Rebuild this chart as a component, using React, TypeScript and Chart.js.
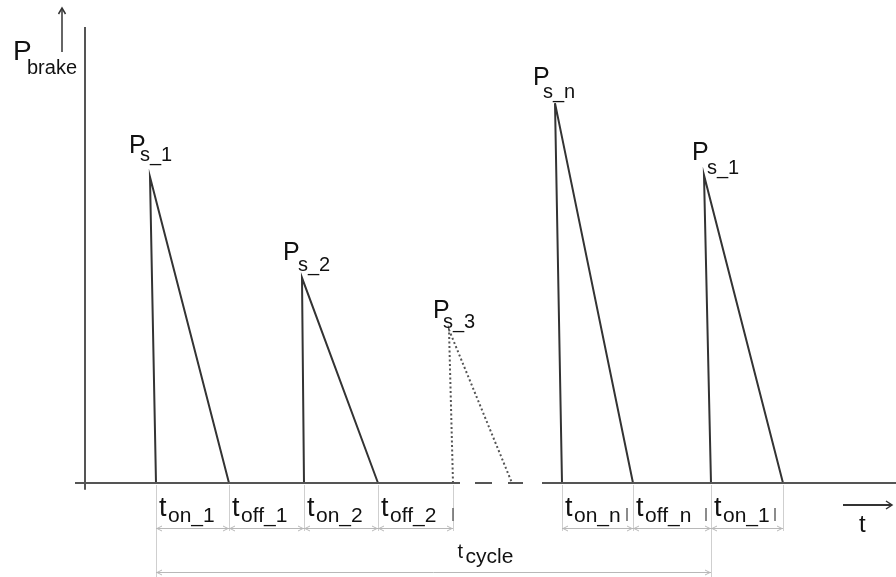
import React, { useEffect, useRef } from "react";
import { Chart, registerables } from "chart.js";

Chart.register(...registerables);

// ---- data (time in arbitrary units, power in % of axis height) ----
const T_MAX = 81.1;
const P_MAX = 100;
const PULSE_APEX_T = [6.5, 21.7, 36.4, 47.0, 61.9];
const PULSE_ON_T = [7.1, 21.9, 36.8, 47.7, 62.6];
const PULSE_OFF_T = [14.4, 29.3, 42.7, 54.8, 69.8];
const PULSE_PEAK = [67.1, 45.0, 33.6, 83.3, 67.5];
const PULSE_LABELS = ["s_1", "s_2", "s_3", "s_n", "s_1"];
const PULSE_DOTTED = [false, false, true, false, false];
const BASELINE_SEGMENTS = [
  [-1.0, 37.5],
  [39.0, 40.7],
  [42.3, 43.8],
  [45.7, 81.1],
];
const Y_AXIS_RANGE = [-1.5, 100];
const ROW1_BOUNDS = [7.1, 14.4, 21.9, 29.3, 36.8];
const ROW1_LABELS = ["on_1", "off_1", "on_2", "off_2"];
const ROW2_BOUNDS = [47.7, 54.8, 62.6, 69.8];
const ROW2_LABELS = ["on_n", "off_n", "on_1"];
const CYCLE_BOUNDS = [7.1, 62.6];
const CYCLE_LABEL = "cycle";

// label styling offsets (px) for the peak labels
const PEAK_LABEL_DX = [-21, -19, -16, -22, -12];
const PEAK_LABEL_DY = [-24, -18, -12, -18, -15];
const PEAK_SUB_DX = [11, 15, 10, 10, 15];
const PEAK_SUB_DY = [8, 11, 10, 13, 14];

const FONT = '"Liberation Sans", Arial, Helvetica, sans-serif';

function font(size: number) {
  return `${size}px ${FONT}`;
}

function chevron(ctx: CanvasRenderingContext2D, x: number, y: number, dir: string, len: number, half: number) {
  ctx.beginPath();
  if (dir === "up") {
    ctx.moveTo(x - half, y + len);
    ctx.lineTo(x, y);
    ctx.lineTo(x + half, y + len);
  } else if (dir === "right") {
    ctx.moveTo(x - len, y - half);
    ctx.lineTo(x, y);
    ctx.lineTo(x - len, y + half);
  } else if (dir === "left") {
    ctx.moveTo(x + len, y - half);
    ctx.lineTo(x, y);
    ctx.lineTo(x + len, y + half);
  }
  ctx.stroke();
}

function dimLine(ctx: CanvasRenderingContext2D, x1: number, x2: number, y: number) {
  ctx.beginPath();
  ctx.moveTo(x1, y);
  ctx.lineTo(x2, y);
  ctx.stroke();
  chevron(ctx, x1 + 1, y, "left", 5, 2.5);
  chevron(ctx, x2 - 1, y, "right", 5, 2.5);
}

function subText(
  ctx: CanvasRenderingContext2D,
  main: string,
  sub: string,
  x: number,
  y: number,
  mainSize: number,
  subSize: number,
  subDx: number,
  subDy: number
) {
  ctx.textAlign = "left";
  ctx.textBaseline = "alphabetic";
  ctx.font = font(mainSize);
  ctx.fillText(main, x, y);
  ctx.font = font(subSize);
  ctx.fillText(sub, x + subDx, y + subDy);
}

const annotationPlugin = {
  id: "brakeAnnotations",
  afterDatasetsDraw(chart: any) {
    const { ctx, scales } = chart;
    const xs = scales.x;
    const ys = scales.y;
    const px = (v: number) => xs.getPixelForValue(v);
    const py = (v: number) => ys.getPixelForValue(v);
    const base = py(0);
    const axisX = px(0);
    const top = py(P_MAX);

    ctx.save();
    ctx.fillStyle = "#111";

    // Axis arrows
    ctx.strokeStyle = "#333";
    ctx.lineWidth = 1.5;
    const upX = axisX - 23;
    ctx.beginPath();
    ctx.moveTo(upX, top + 25);
    ctx.lineTo(upX, top - 19);
    ctx.stroke();
    chevron(ctx, upX, top - 19, "up", 6, 3.5);

    const rY = base + 22;
    ctx.lineWidth = 2;
    ctx.beginPath();
    ctx.moveTo(843, rY);
    ctx.lineTo(892, rY);
    ctx.stroke();
    ctx.lineWidth = 1.5;
    chevron(ctx, 892, rY, "right", 6, 4);

    // Axis labels
    subText(ctx, "P", "brake", axisX - 72, top + 33, 28, 20, 14, 14);
    ctx.font = font(24);
    ctx.fillText("t", 859, base + 49);

    // Peak labels
    for (let i = 0; i < PULSE_APEX_T.length; i++) {
      const ax = px(PULSE_APEX_T[i]);
      const ay = py(PULSE_PEAK[i]);
      subText(
        ctx,
        "P",
        PULSE_LABELS[i],
        ax + PEAK_LABEL_DX[i],
        ay + PEAK_LABEL_DY[i],
        25,
        20,
        PEAK_SUB_DX[i],
        PEAK_SUB_DY[i]
      );
    }

    // Extension lines
    const rowY = base + 45;
    const cycY = base + 89;
    ctx.strokeStyle = "#cfcfcf";
    ctx.lineWidth = 1;
    const allBounds = [...ROW1_BOUNDS, ...ROW2_BOUNDS];
    for (const b of allBounds) {
      const x = Math.round(px(b)) + 0.5;
      ctx.beginPath();
      ctx.moveTo(x, base + 2);
      ctx.lineTo(x, rowY + 3);
      ctx.stroke();
    }
    for (const b of CYCLE_BOUNDS) {
      const x = Math.round(px(b)) + 0.5;
      ctx.beginPath();
      ctx.moveTo(x, base + 2);
      ctx.lineTo(x, cycY + 6);
      ctx.stroke();
    }

    // Dimension arrows
    ctx.strokeStyle = "#b8b8b8";
    ctx.lineWidth = 1;
    const rows: [number[], string[]][] = [
      [ROW1_BOUNDS, ROW1_LABELS],
      [ROW2_BOUNDS, ROW2_LABELS],
    ];
    for (const [bounds] of rows) {
      for (let i = 0; i < bounds.length - 1; i++) {
        dimLine(ctx, px(bounds[i]), px(bounds[i + 1]), rowY + 0.5);
      }
    }
    dimLine(ctx, px(CYCLE_BOUNDS[0]), px(CYCLE_BOUNDS[1]), cycY + 0.5);

    // Interval labels
    ctx.fillStyle = "#111";
    for (const [bounds, labels] of rows) {
      for (let i = 0; i < labels.length; i++) {
        const x = px(bounds[i]) + 3;
        subText(ctx, "t", labels[i], x, base + 33, 27, 21, 9, 6);
      }
    }
    const cx = (px(CYCLE_BOUNDS[0]) + px(CYCLE_BOUNDS[1])) / 2 + 24;
    subText(ctx, "t", CYCLE_LABEL, cx, base + 75, 20, 21, 8, 5);

    // small box-edge marks next to some labels
    ctx.strokeStyle = "#666";
    ctx.lineWidth = 1.5;
    const marks = [px(ROW1_BOUNDS[4]), px(ROW2_BOUNDS[1]) - 6, px(ROW2_BOUNDS[2]) - 5, px(ROW2_BOUNDS[3]) - 8];
    for (const m of marks) {
      ctx.beginPath();
      ctx.moveTo(m, base + 25);
      ctx.lineTo(m, base + 38);
      ctx.stroke();
    }

    ctx.restore();
  },
};

export default function App() {
  const canvasRef = useRef<HTMLCanvasElement | null>(null);

  useEffect(() => {
    const canvas = canvasRef.current;
    if (!canvas) return;

    const common = {
      showLine: true,
      pointRadius: 0,
      pointHoverRadius: 0,
      fill: false,
      tension: 0,
      clip: false as any,
    };

    const datasets: any[] = [];
    datasets.push({
      ...common,
      data: [
        { x: 0, y: Y_AXIS_RANGE[0] },
        { x: 0, y: Y_AXIS_RANGE[1] },
      ],
      borderColor: "#555",
      borderWidth: 2,
    });
    for (const [a, b] of BASELINE_SEGMENTS) {
      datasets.push({
        ...common,
        data: [
          { x: a, y: 0 },
          { x: b, y: 0 },
        ],
        borderColor: "#555",
        borderWidth: 2,
      });
    }
    for (let i = 0; i < PULSE_APEX_T.length; i++) {
      datasets.push({
        ...common,
        data: [
          { x: PULSE_ON_T[i], y: 0 },
          { x: PULSE_APEX_T[i], y: PULSE_PEAK[i] },
          { x: PULSE_OFF_T[i], y: 0 },
        ],
        borderColor: PULSE_DOTTED[i] ? "#555" : "#333",
        borderWidth: 2,
        borderDash: PULSE_DOTTED[i] ? [2, 2.5] : [],
      });
    }

    const chart = new Chart(canvas, {
      type: "scatter",
      data: { datasets },
      options: {
        responsive: false,
        animation: false,
        events: [],
        layout: { padding: { left: 85, top: 27, right: 0, bottom: 94 } },
        plugins: {
          legend: { display: false },
          tooltip: { enabled: false },
        },
        scales: {
          x: { type: "linear", min: 0, max: T_MAX, display: false },
          y: { type: "linear", min: 0, max: P_MAX, display: false },
        },
      },
      plugins: [annotationPlugin],
    });

    return () => chart.destroy();
  }, []);

  return (
    <div style={{ position: "absolute", left: 0, top: 0, width: 896, height: 577, background: "#fff" }}>
      <canvas ref={canvasRef} width={896} height={577} style={{ display: "block" }} />
    </div>
  );
}
